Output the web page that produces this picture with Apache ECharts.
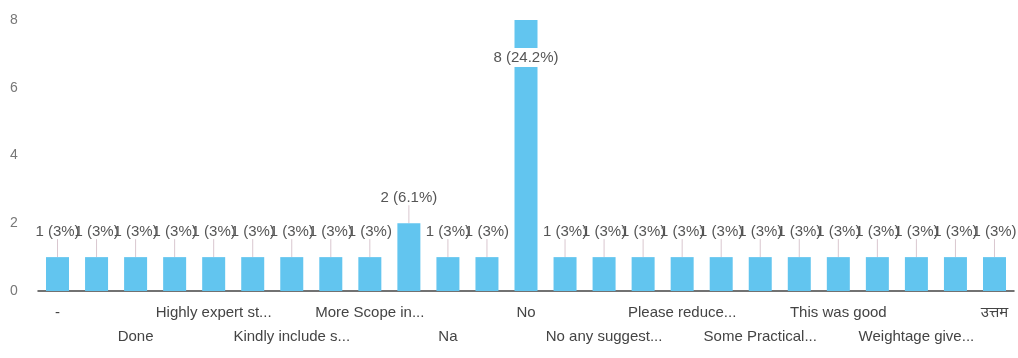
<!DOCTYPE html>
<html>
<head>
<meta charset="utf-8">
<script src="https://cdn.jsdelivr.net/npm/echarts@6/dist/echarts.min.js"></script>
<style>
    html, body { margin: 0; padding: 0; background: #fff; }
    #bar-chart { width: 1018px; height: 358px; }
</style>
</head>
<body>
<div id="bar-chart"></div>
<script>
    // categories (only every other one is shown on the axis)
    var categories = [
        '-', 'Best', 'Done', 'Good', 'Highly expert st...', 'It was helpful',
        'Kindly include s...', 'Kindly provide', 'More Scope in...', 'NA', 'Na', 'Nil',
        'No', 'No.', 'No any suggest...', 'Nothing', 'Please reduce...', 'Satisfied',
        'Some Practical...', 'Thank you', 'This was good', 'Very good', 'Weightage give...',
        'Well organised', 'उत्तम'
    ];
    var counts = [1, 1, 1, 1, 1, 1, 1, 1, 1, 2, 1, 1, 8, 1, 1, 1, 1, 1, 1, 1, 1, 1, 1, 1, 1];
    var yTicks = [0, 2, 4, 6, 8];

    var total = counts.reduce(function (a, b) { return a + b; }, 0);
    var maxVal = yTicks[yTicks.length - 1];
    var fontFam = '"Liberation Sans", Arial, "Noto Sans", sans-serif';

    function pct(v) {
        var p = v / total * 100;
        var s = Math.abs(p - Math.round(p)) < 0.05 ? Math.round(p).toString() : p.toFixed(1);
        return v + ' (' + s + '%)';
    }

    var seriesData = counts.map(function (v) {
        var item = { value: v };
        if (v === maxVal) {
            // no room above, google puts it inside the bar
            item.label = {
                position: 'insideTop',
                distance: 28,
                backgroundColor: '#fff',
                padding: [2, 3]
            };
            item.labelLine = { show: false };
        }
        return item;
    });

    var chart = echarts.init(document.getElementById('bar-chart'));
    chart.setOption({
        animation: false,
        grid: { left: 38, right: 4, top: 20, bottom: 67 },
        xAxis: {
            type: 'category',
            data: categories,
            axisLine: { lineStyle: { color: '#444', width: 1.5 } },
            axisTick: { show: false },
            axisLabel: {
                interval: 1,
                margin: 10,
                color: '#444',
                fontSize: 15,
                lineHeight: 24,
                fontFamily: fontFam,
                formatter: function (val, idx) {
                    return (idx / 2) % 2 === 1 ? '\n' + val : val;
                }
            }
        },
        yAxis: {
            type: 'value',
            min: yTicks[0],
            max: maxVal,
            interval: 2,
            splitLine: { show: false },
            axisLabel: {
                align: 'left',
                margin: 28,
                color: '#777',
                fontSize: 14,
                fontFamily: fontFam
            }
        },
        series: [{
            type: 'bar',
            data: seriesData,
            barWidth: 23,
            itemStyle: { color: '#62c5ef' },
            label: {
                show: true,
                position: 'top',
                distance: 2,
                color: '#555',
                fontSize: 15,
                fontFamily: fontFam,
                formatter: function (p) { return pct(p.value); }
            },
            labelLayout: function (params) {
                return counts[params.dataIndex] === maxVal ? {} : { dy: -16 };
            },
            labelLine: { show: true, lineStyle: { color: '#d9c7cf', width: 1 } }
        }]
    });
</script>
</body>
</html>
